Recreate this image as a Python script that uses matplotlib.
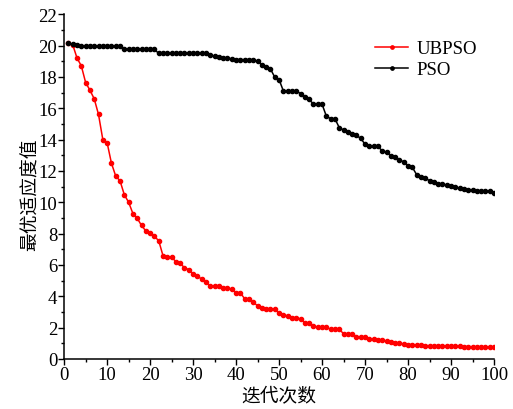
import matplotlib
matplotlib.use('Agg')
import matplotlib.pyplot as plt
from matplotlib.ticker import MultipleLocator

plt.rcParams['font.family'] = ['Liberation Serif', 'Noto Sans CJK SC']
plt.rcParams['mathtext.fontset'] = 'stix'

# iteration numbers
iters = list(range(1, 101))

# best fitness per iteration, UBPSO
ubpso = [20.15, 20.05, 19.2, 18.7, 17.64, 17.15, 16.6, 15.6, 14.0, 13.8,
         12.5, 11.67, 11.37, 10.48, 10.0, 9.28, 8.98, 8.52, 8.17, 8.02,
         7.82, 7.55, 6.59, 6.52, 6.52, 6.2, 6.1, 5.82, 5.7, 5.43,
         5.3, 5.09, 4.88, 4.67, 4.67, 4.64, 4.55, 4.55, 4.45, 4.24,
         4.23, 3.83, 3.82, 3.61, 3.4, 3.24, 3.17, 3.17, 3.17, 2.92,
         2.83, 2.74, 2.64, 2.64, 2.55, 2.31, 2.28, 2.08, 2.01, 2.01,
         2.01, 1.9, 1.9, 1.9, 1.61, 1.61, 1.61, 1.42, 1.42, 1.42,
         1.29, 1.27, 1.19, 1.19, 1.15, 1.08, 1.04, 1.0, 0.96, 0.92,
         0.92, 0.9, 0.88, 0.85, 0.85, 0.84, 0.83, 0.82, 0.82, 0.81,
         0.8, 0.8, 0.79, 0.79, 0.78, 0.78, 0.77, 0.77, 0.77, 0.75]

# best fitness per iteration, PSO
pso = [20.13, 20.1, 20.05, 19.95, 19.95, 19.95, 19.95, 19.95, 19.95, 19.95,
       19.95, 19.95, 19.95, 19.75, 19.75, 19.75, 19.75, 19.75, 19.75, 19.75,
       19.75, 19.5, 19.5, 19.5, 19.5, 19.5, 19.5, 19.5, 19.5, 19.5,
       19.5, 19.5, 19.5, 19.4, 19.3, 19.25, 19.2, 19.2, 19.15, 19.1,
       19.1, 19.1, 19.1, 19.1, 19.0, 18.77, 18.6, 18.5, 17.98, 17.83,
       17.1, 17.1, 17.1, 17.1, 16.93, 16.71, 16.56, 16.26, 16.26, 16.26,
       15.49, 15.33, 15.33, 14.76, 14.61, 14.48, 14.37, 14.27, 14.07, 13.7,
       13.56, 13.56, 13.56, 13.28, 13.2, 12.97, 12.9, 12.69, 12.58, 12.33,
       12.23, 11.76, 11.59, 11.55, 11.37, 11.27, 11.16, 11.16, 11.1, 11.02,
       10.95, 10.88, 10.84, 10.8, 10.76, 10.73, 10.73, 10.73, 10.73, 10.59]

fig = plt.figure(figsize=(5.13, 4.10), dpi=100)
ax = fig.add_axes([0.125, 0.122, 0.838, 0.841])

ax.plot(iters, ubpso, color='red', marker='o', markersize=3, linewidth=1.1, label='UBPSO')
ax.plot(iters, pso, color='black', marker='o', markersize=3, linewidth=1.1, label='PSO')

ax.set_xlim(0, 100)
ax.set_ylim(0, 22)
ax.xaxis.set_major_locator(MultipleLocator(10))
ax.xaxis.set_minor_locator(MultipleLocator(5))
ax.yaxis.set_major_locator(MultipleLocator(2))
ax.yaxis.set_minor_locator(MultipleLocator(1))

ax.spines['top'].set_visible(False)
ax.spines['right'].set_visible(False)
ax.spines['left'].set_linewidth(1.1)
ax.spines['bottom'].set_linewidth(1.1)
ax.tick_params(which='major', direction='out', length=4, width=1, labelsize=13.5, pad=1)
ax.tick_params(which='minor', direction='out', length=2.5, width=1)

ax.set_xlabel('迭代次数', fontsize=13.5, labelpad=3)
ax.set_ylabel('最优适应度值', fontsize=13.5)
ax.yaxis.set_label_coords(-0.056, 0.48)

ax.legend(loc='upper right', bbox_to_anchor=(1.0, 0.973), frameon=False, fontsize=13.5,
          handlelength=1.75, handletextpad=0.45, labelspacing=0.2, markerscale=0.8)

fig.savefig('out.png', dpi=100)
